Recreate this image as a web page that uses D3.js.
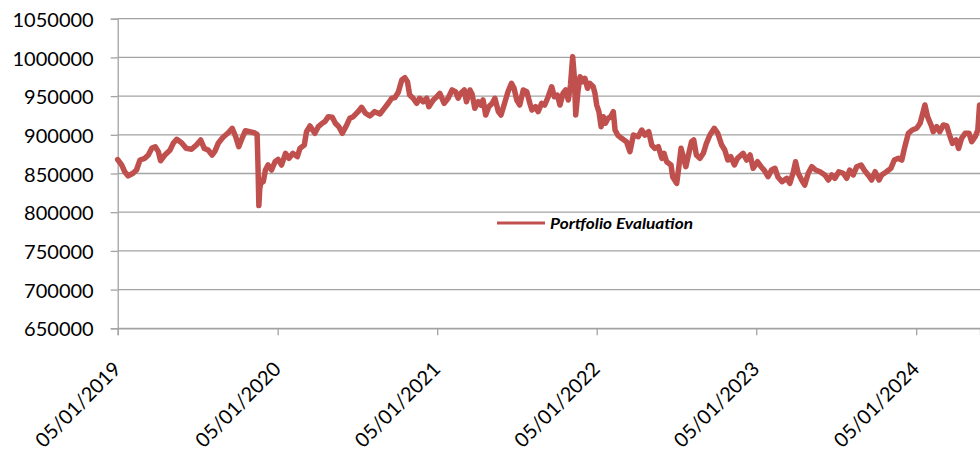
<!DOCTYPE html>
<html>
<head>
<meta charset="utf-8">
<script src="https://cdn.jsdelivr.net/npm/d3@7/dist/d3.min.js"></script>
<style>
  html, body { margin: 0; padding: 0; background: #ffffff; }
  svg { display: block; }
</style>
</head>
<body>
<svg id="chart" width="980" height="453"></svg>
<script>
// ---------- DATA ----------
const seriesName = "Portfolio Evaluation";

const dates = [
"2019-05-01","2019-05-10","2019-05-17","2019-05-25","2019-06-05","2019-06-13","2019-06-21","2019-07-02","2019-07-10","2019-07-18",
"2019-07-26","2019-08-02","2019-08-07","2019-08-17","2019-08-29","2019-09-05","2019-09-13","2019-09-24","2019-10-05","2019-10-17",
"2019-10-28","2019-11-07","2019-11-15","2019-11-24","2019-12-03","2019-12-09","2019-12-17","2019-12-28","2020-01-09","2020-01-18",
"2020-01-26","2020-02-02","2020-02-08","2020-02-17","2020-02-27","2020-03-08","2020-03-15","2020-03-17","2020-03-19","2020-03-21",
"2020-03-23","2020-03-29","2020-04-03","2020-04-09","2020-04-17","2020-04-25","2020-05-02","2020-05-10","2020-05-19","2020-05-27",
"2020-06-05","2020-06-15","2020-06-21","2020-07-01","2020-07-06","2020-07-14","2020-07-25","2020-08-02","2020-08-11","2020-08-17",
"2020-08-25","2020-09-03","2020-09-10","2020-09-18","2020-09-26","2020-10-06","2020-10-13","2020-10-21","2020-11-01","2020-11-09",
"2020-11-18","2020-11-28","2020-12-09","2020-12-21","2020-12-31","2021-01-09","2021-01-17","2021-01-24","2021-02-01","2021-02-09",
"2021-02-16","2021-02-22","2021-02-27","2021-03-07","2021-03-15","2021-03-22","2021-03-30","2021-04-07","2021-04-12","2021-04-22",
"2021-04-30","2021-05-07","2021-05-17","2021-05-26","2021-06-04","2021-06-12","2021-06-18","2021-06-24","2021-07-02","2021-07-07",
"2021-07-15","2021-07-20","2021-07-26","2021-08-03","2021-08-09","2021-08-14","2021-08-20","2021-08-27","2021-09-04","2021-09-10",
"2021-09-18","2021-09-24","2021-10-01","2021-10-10","2021-10-18","2021-10-24","2021-10-30","2021-11-06","2021-11-14","2021-11-22",
"2021-11-29","2021-12-04","2021-12-12","2021-12-18","2021-12-26","2022-01-02","2022-01-10","2022-01-18","2022-01-24","2022-01-31",
"2022-02-06","2022-02-13","2022-02-19","2022-02-25","2022-03-02","2022-03-07","2022-03-11","2022-03-14","2022-03-19","2022-03-24",
"2022-03-30","2022-04-04","2022-04-10","2022-04-15","2022-04-23","2022-04-27","2022-05-01","2022-05-06","2022-05-11","2022-05-16",
"2022-05-21","2022-05-27","2022-06-02","2022-06-08","2022-06-12","2022-06-18","2022-06-27","2022-07-08","2022-07-16","2022-07-24",
"2022-08-04","2022-08-12","2022-08-19","2022-08-28","2022-09-04","2022-09-11","2022-09-19","2022-09-27","2022-10-02","2022-10-08",
"2022-10-18","2022-10-22","2022-10-31","2022-11-04","2022-11-10","2022-11-15","2022-11-21","2022-11-26","2022-12-04","2022-12-09",
"2022-12-15","2022-12-23","2022-12-31","2023-01-07","2023-01-15","2023-01-25","2023-02-02","2023-02-11","2023-02-18","2023-02-25",
"2023-03-04","2023-03-12","2023-03-19","2023-04-01","2023-04-09","2023-04-17","2023-04-24","2023-05-04","2023-05-12","2023-05-19",
"2023-05-28","2023-06-05","2023-06-13","2023-06-20","2023-06-29","2023-07-10","2023-07-17","2023-07-25","2023-07-30","2023-08-05",
"2023-08-13","2023-08-20","2023-08-28","2023-09-05","2023-09-14","2023-09-24","2023-10-05","2023-10-13","2023-10-21","2023-10-28",
"2023-11-06","2023-11-16","2023-11-24","2023-12-01","2023-12-09","2023-12-17","2023-12-27","2024-01-03","2024-01-12","2024-01-20",
"2024-01-28","2024-02-06","2024-02-12","2024-02-23","2024-03-04","2024-03-12","2024-03-21","2024-03-29","2024-04-05","2024-04-13",
"2024-04-22","2024-05-02","2024-05-10","2024-05-15","2024-05-21","2024-05-27","2024-06-04","2024-06-09","2024-06-17","2024-06-24",
"2024-07-02","2024-07-10","2024-07-15","2024-07-23","2024-07-31","2024-08-06","2024-08-13","2024-08-21","2024-08-30","2024-09-05",
"2024-09-13","2024-09-19","2024-09-23"
];

const values = [
868000,861000,852300,846800,850300,854500,867400,869600,873900,882500,
884600,878200,866500,873900,880400,889000,894200,889800,882500,881300,
886800,893300,882500,880400,873900,878200,889000,896800,902700,908400,
897500,884600,893300,905300,904000,902700,900500,860000,808500,830000,
837300,839400,854500,861000,854500,865200,868300,861000,876100,869600,
876100,871700,882500,886800,904000,911400,901900,910500,914900,917000,
923400,922600,914900,910500,901900,912700,921300,923400,929900,935500,
927800,924300,929900,926900,934200,940700,947200,948000,955000,970800,
973800,968600,951400,947200,940700,947200,942800,947200,936300,945000,
949200,953600,940700,947200,957900,955700,947200,953600,957900,942800,
957900,952300,934200,942800,938500,945000,925600,936300,940700,947200,
929900,925600,938500,955700,966500,960100,945000,938500,957900,955700,
940700,932000,936300,929900,940700,938500,949200,962100,949200,951400,
938500,953600,957900,945000,964300,1001000,973000,925600,955700,975100,
968600,973000,960100,966500,962100,953600,938500,929900,910500,923400,
914900,921300,923400,929900,906200,899700,895500,891100,878200,899700,
897500,906200,899700,904000,886800,882500,884600,869600,876100,865200,
861000,845300,837300,854500,882500,871700,858800,871700,891100,893300,
873900,869600,876100,889000,899700,908400,901900,886800,880400,867400,
871700,861000,869600,876100,867400,873900,856700,865200,858800,854500,
845900,854500,856700,845100,839400,843800,837300,852300,865200,850300,
841600,835100,850300,858800,854500,852300,848100,841600,848100,843800,
852300,850300,843800,854500,848100,858800,861000,854500,848100,841600,
852300,841600,848100,852300,856700,867400,869600,867400,884600,901900,
906200,908400,914900,925600,938500,923400,912700,904000,910500,904000,
912700,911400,901900,889000,893300,882500,895500,901900,901900,891100,
897500,906200,938500
];

const yTickValues = [650000,700000,750000,800000,850000,900000,950000,1000000,1050000];
const xTickDates  = ["2019-05-01","2020-05-01","2021-05-01","2022-05-01","2023-05-01","2024-05-01"];
const xTickLabels = ["05/01/2019","05/01/2020","05/01/2021","05/01/2022","05/01/2023","05/01/2024"];
const xDomain = ["2019-05-01","2024-09-24"];

// ---------- CHART ----------
const parse = d3.timeParse("%Y-%m-%d");
const data = dates.map((d, i) => ({ date: parse(d), value: values[i] }));

const svg = d3.select("#chart");
const plotL = 117.7, plotR = 980, plotT = 18.7, plotB = 328.3;
const gridColor = "#a3a3a3";
const lineColor = "#c0504d";
const fontFam = "Lato, 'Open Sans', sans-serif";

const x = d3.scaleTime().domain(xDomain.map(parse)).range([plotL, plotR]);
const y = d3.scaleLinear().domain([650000, 1050000]).range([plotB, plotT]);

// gridlines
svg.append("g").selectAll("line")
  .data(yTickValues)
  .join("line")
  .attr("x1", plotL).attr("x2", plotR)
  .attr("y1", d => y(d)).attr("y2", d => y(d))
  .attr("stroke", gridColor).attr("stroke-width", 1.3);

// y axis
const yAxis = d3.axisLeft(y).tickValues(yTickValues).tickSize(7).tickPadding(17)
  .tickFormat(d3.format("d"));
const gy = svg.append("g").attr("transform", `translate(${plotL},0)`).call(yAxis);
gy.select(".domain").attr("stroke", gridColor).attr("stroke-width", 1.3);
gy.selectAll(".tick line").attr("stroke", gridColor).attr("stroke-width", 1.3);
gy.selectAll(".tick text")
  .attr("font-family", fontFam).attr("font-size", 20).attr("fill", "#000")
  .attr("dy", "0.38em");

// x axis
const xAxis = d3.axisBottom(x).tickValues(xTickDates.map(parse)).tickSize(7)
  .tickFormat((d, i) => xTickLabels[i]);
const gx = svg.append("g").attr("transform", `translate(0,${plotB})`).call(xAxis);
gx.select(".domain").attr("stroke", gridColor).attr("stroke-width", 1.3);
gx.selectAll(".tick line").attr("stroke", gridColor).attr("stroke-width", 1.3);
gx.selectAll(".tick text")
  .attr("font-family", fontFam).attr("font-size", 20).attr("fill", "#000")
  .attr("text-anchor", "end")
  .attr("dy", null)
  .attr("y", 0)
  .attr("transform", "translate(4,42) rotate(-45)");

// line
const line = d3.line().x(d => x(d.date)).y(d => y(d.value));
svg.append("path")
  .datum(data)
  .attr("d", line)
  .attr("fill", "none")
  .attr("stroke", lineColor)
  .attr("stroke-width", 5.5)
  .attr("stroke-linejoin", "round")
  .attr("stroke-linecap", "round");

// legend
const lg = svg.append("g").attr("transform", "translate(497,223)");
lg.append("line").attr("x1", 0).attr("x2", 48).attr("y1", 0).attr("y2", 0)
  .attr("stroke", lineColor).attr("stroke-width", 3);
lg.append("text").attr("x", 53).attr("y", 5.5)
  .attr("font-family", fontFam).attr("font-size", 16)
  .attr("font-weight", "bold").attr("font-style", "italic")
  .attr("textLength", 143).attr("lengthAdjust", "spacingAndGlyphs")
  .attr("fill", "#000").text(seriesName);
</script>
</body>
</html>
